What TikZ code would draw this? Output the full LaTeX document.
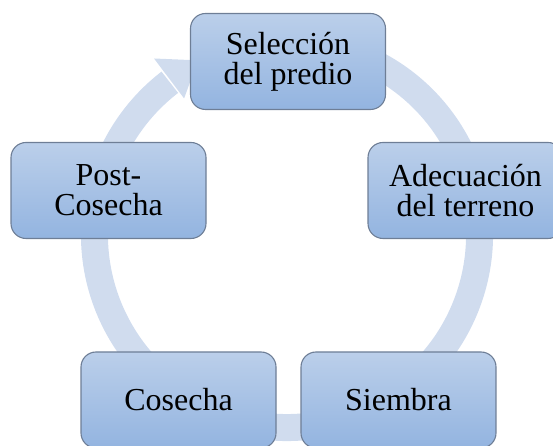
\documentclass[tikz,border=0pt]{standalone}
\usepackage{fontspec}
\setmainfont{Liberation Serif}
\usetikzlibrary{calc}
\definecolor{ringc}{HTML}{D0DCEE}
\definecolor{boxtop}{HTML}{BBCFEA}
\definecolor{boxbot}{HTML}{93B4E0}
\definecolor{boxline}{HTML}{6E7E96}
\begin{document}
\begin{tikzpicture}[x=1pt,y=1pt,
  stagebox/.style={draw=boxline, line width=1.1pt, rounded corners=15pt,
    top color=boxtop, bottom color=boxbot, shading angle=0,
    minimum width=195pt, minimum height=96pt, align=center,
    font=\fontsize{32}{30}\selectfont, inner sep=0pt}]
\useasboundingbox (0,0) rectangle (553,446);
\coordinate (c) at (287,211);
% cycle ring
\draw[ringc, line width=27pt] (c) ++(70:192.5) arc[start angle=70, end angle=-232.5, radius=192.5];
\fill[ringc] ($(c)+(127:171)$) -- ($(c)+(127:221)$) -- ($(c)+(117:196)$) -- cycle;
% stages
\node[stagebox] (sel) at (288,384.5) {Selección\\del predio};
\node[stagebox] (adec) at (465.5,255.5) {Adecuación\\del terreno};
\node[stagebox] (siem) at (398.5,46) {Siembra};
\node[stagebox] (cos) at (178.5,46) {Cosecha};
\node[stagebox] (post) at (108.5,255.5) {Post-\\Cosecha};
\end{tikzpicture}
\end{document}
